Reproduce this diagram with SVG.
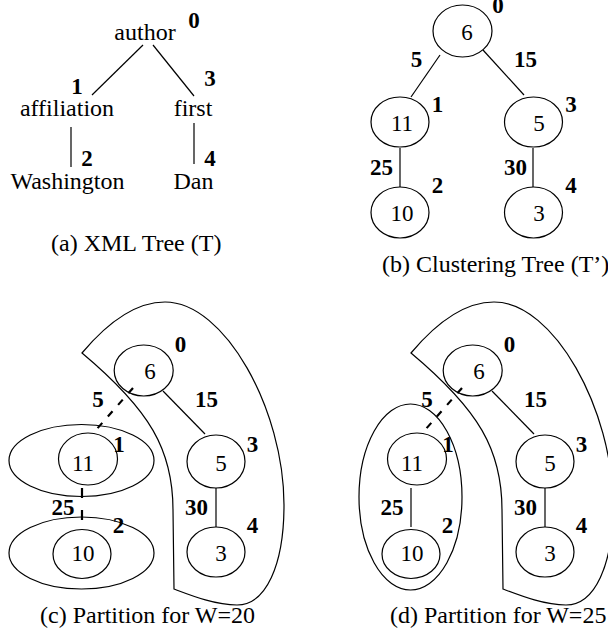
<svg xmlns="http://www.w3.org/2000/svg" width="608" height="638" viewBox="0 0 608 638">
<style>
text{font-family:"Liberation Serif","Times New Roman",serif;fill:#000}
.t{font-size:24px;text-anchor:middle}
.n{font-size:23px;text-anchor:middle}
.l{font-size:23px;font-weight:bold;text-anchor:middle}
.cap{font-size:24px}
ellipse,path.r{fill:none;stroke:#000;stroke-width:1.2}
line{stroke:#000;stroke-width:1.2}
.d{stroke-width:2.2}
</style>
<rect width="608" height="638" fill="#fff"/>
<!-- (a) XML tree -->
<g id="connectors-a">
<line x1="143" y1="45" x2="92" y2="95"/>
<line x1="153" y1="45" x2="194" y2="96"/>
<line x1="71" y1="127" x2="71" y2="167"/>
<line x1="194" y1="123" x2="194" y2="164"/>
</g>
<g id="a-author"><text class="t" x="145" y="40">author</text><text class="l" x="194" y="28">0</text></g>
<g id="a-affiliation"><text class="t" x="67" y="116">affiliation</text><text class="l" x="77" y="94">1</text></g>
<g id="a-first"><text class="t" x="193" y="116">first</text><text class="l" x="210" y="86">3</text></g>
<g id="a-washington"><text class="t" x="67.5" y="189">Washington</text><text class="l" x="87" y="166">2</text></g>
<g id="a-dan"><text class="t" x="193.5" y="189">Dan</text><text class="l" x="210" y="166">4</text></g>
<text class="cap" x="51" y="251">(a) XML Tree (T)</text>

<!-- (b) clustering tree -->
<g id="connectors-b">
<line x1="440" y1="55" x2="411" y2="97"/>
<line x1="483" y1="50" x2="524" y2="95"/>
<line x1="400" y1="148" x2="400" y2="187"/>
<line x1="533" y1="148" x2="533" y2="187"/>
<text class="l" x="416.5" y="67">5</text>
<text class="l" x="525.5" y="67">15</text>
<text class="l" x="381.5" y="175">25</text>
<text class="l" x="515.5" y="175">30</text>
</g>
<g id="b-n0"><ellipse cx="462.5" cy="31" rx="29.5" ry="26"/><text class="n" x="467" y="40">6</text><text class="l" x="498" y="13">0</text></g>
<g id="b-n1"><ellipse cx="400" cy="122" rx="29" ry="25"/><text class="n" x="402" y="131">11</text><text class="l" x="437.5" y="112">1</text></g>
<g id="b-n3"><ellipse cx="533.5" cy="122" rx="29" ry="25"/><text class="n" x="539" y="131">5</text><text class="l" x="571" y="112">3</text></g>
<g id="b-n2"><ellipse cx="400" cy="212.5" rx="29" ry="25.5"/><text class="n" x="402" y="221">10</text><text class="l" x="437.5" y="193">2</text></g>
<g id="b-n4"><ellipse cx="533.5" cy="212.5" rx="29" ry="25.5"/><text class="n" x="539" y="221">3</text><text class="l" x="571" y="193">4</text></g>
<text class="cap" x="382" y="272">(b) Clustering Tree (T’)</text>

<!-- (c) partition W=20 -->
<g id="c-regions">
<path class="r" d="M82,353 C108,322 135,302 165,302 C225,302 284,410 284,505 C284,565 266,605 237,605 C215,605 190,595 174,589 L173,510 C173,450 150,410 82,353 Z"/>
<ellipse cx="81.5" cy="460.5" rx="72.5" ry="36"/>
<ellipse cx="81.5" cy="553" rx="72.5" ry="36"/>
</g>
<g id="connectors-c">
<line class="d" x1="133" y1="388" x2="96" y2="430" stroke-dasharray="7,8.5"/>
<line x1="163" y1="391" x2="205" y2="434"/>
<line class="d" x1="82" y1="488" x2="82" y2="521" stroke-dasharray="10,12"/>
<line x1="216" y1="488" x2="216" y2="527"/>
<text class="l" x="98" y="407">5</text>
<text class="l" x="206.5" y="407">15</text>
<text class="l" x="63" y="515">25</text>
<text class="l" x="196.5" y="515">30</text>
</g>
<g id="c-n0"><ellipse cx="143.7" cy="370.5" rx="29.5" ry="25.5"/><text class="n" x="150" y="379">6</text><text class="l" x="180.5" y="352">0</text></g>
<g id="c-n1"><ellipse cx="88" cy="459" rx="29.5" ry="26"/><text class="n" x="83" y="471">11</text><text class="l" x="119" y="452">1</text></g>
<g id="c-n3"><ellipse cx="216" cy="461.5" rx="29" ry="26.5"/><text class="n" x="221" y="471">5</text><text class="l" x="252.5" y="452">3</text></g>
<g id="c-n2"><ellipse cx="82" cy="554" rx="29" ry="24.5"/><text class="n" x="83" y="561">10</text><text class="l" x="118.5" y="533">2</text></g>
<g id="c-n4"><ellipse cx="216" cy="552" rx="29" ry="25"/><text class="n" x="221" y="561">3</text><text class="l" x="252.5" y="533">4</text></g>
<text class="cap" x="40" y="623">(c) Partition for W=20</text>

<!-- (d) partition W=25 -->
<g id="d-regions">
<path class="r" d="M411,353 C437,322 464,302 494,302 C554,302 613,410 613,505 C613,565 595,605 566,605 C544,605 519,595 503,589 L502,510 C502,450 479,410 411,353 Z"/>
<ellipse cx="410.5" cy="497" rx="51.5" ry="93"/>
</g>
<g id="connectors-d">
<line class="d" x1="462" y1="388" x2="425" y2="430" stroke-dasharray="7,8.5"/>
<line x1="492" y1="391" x2="534" y2="434"/>
<line x1="411" y1="488" x2="411" y2="527"/>
<line x1="545" y1="488" x2="545" y2="527"/>
<text class="l" x="427" y="407">5</text>
<text class="l" x="535.5" y="407">15</text>
<text class="l" x="392" y="515">25</text>
<text class="l" x="525.5" y="515">30</text>
</g>
<g id="d-n0"><ellipse cx="472.7" cy="370.5" rx="29.5" ry="25.5"/><text class="n" x="479" y="379">6</text><text class="l" x="509.5" y="352">0</text></g>
<g id="d-n1"><ellipse cx="417" cy="459" rx="29.5" ry="26"/><text class="n" x="412" y="471">11</text><text class="l" x="448" y="452">1</text></g>
<g id="d-n3"><ellipse cx="545" cy="461.5" rx="29" ry="26.5"/><text class="n" x="550" y="471">5</text><text class="l" x="581.5" y="452">3</text></g>
<g id="d-n2"><ellipse cx="411" cy="554" rx="29" ry="24.5"/><text class="n" x="412" y="561">10</text><text class="l" x="447.5" y="533">2</text></g>
<g id="d-n4"><ellipse cx="545" cy="552" rx="29" ry="25"/><text class="n" x="550" y="561">3</text><text class="l" x="581.5" y="533">4</text></g>
<text class="cap" x="390" y="623">(d) Partition for W=25</text>
</svg>
